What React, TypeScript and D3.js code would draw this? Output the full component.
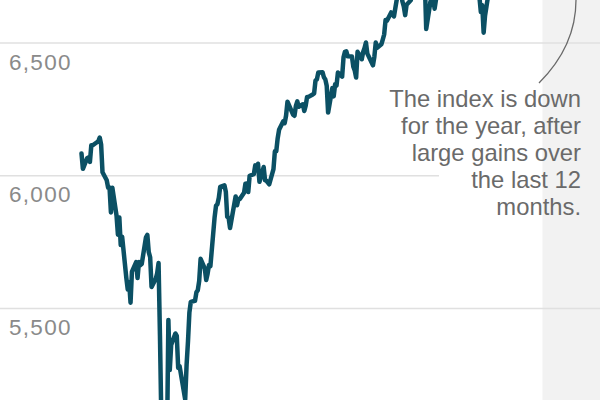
import React from "react";
import * as d3 from "d3";

const dates: string[] = [
  "2025-02-06","2025-02-07","2025-02-10","2025-02-11","2025-02-12","2025-02-13","2025-02-14","2025-02-18","2025-02-19","2025-02-20","2025-02-21","2025-02-24","2025-02-25","2025-02-26","2025-02-27","2025-02-28",
  "2025-03-03","2025-03-04","2025-03-05","2025-03-06","2025-03-07","2025-03-10","2025-03-11","2025-03-12","2025-03-13","2025-03-14","2025-03-17","2025-03-18","2025-03-19","2025-03-20","2025-03-21","2025-03-24","2025-03-25","2025-03-26","2025-03-27","2025-03-28","2025-03-31",
  "2025-04-01","2025-04-02","2025-04-03","2025-04-04","2025-04-07","2025-04-08","2025-04-09","2025-04-10","2025-04-11","2025-04-14","2025-04-15","2025-04-16","2025-04-17","2025-04-21","2025-04-22","2025-04-23","2025-04-24","2025-04-25","2025-04-28","2025-04-29","2025-04-30",
  "2025-05-01","2025-05-02","2025-05-05","2025-05-06","2025-05-07","2025-05-08","2025-05-09","2025-05-12","2025-05-13","2025-05-14","2025-05-15","2025-05-16","2025-05-19","2025-05-20","2025-05-21","2025-05-22","2025-05-23","2025-05-27","2025-05-28","2025-05-29","2025-05-30",
  "2025-06-02","2025-06-03","2025-06-04","2025-06-05","2025-06-06","2025-06-09","2025-06-10","2025-06-11","2025-06-12","2025-06-13","2025-06-16","2025-06-17","2025-06-18","2025-06-20","2025-06-23","2025-06-24","2025-06-25","2025-06-26","2025-06-27","2025-06-30",
  "2025-07-01","2025-07-02","2025-07-03","2025-07-07","2025-07-08","2025-07-09","2025-07-10","2025-07-11","2025-07-14","2025-07-15","2025-07-16","2025-07-17","2025-07-18","2025-07-21","2025-07-22","2025-07-23","2025-07-24","2025-07-25","2025-07-28","2025-07-29","2025-07-30","2025-07-31",
  "2025-08-01","2025-08-04","2025-08-05","2025-08-06","2025-08-07","2025-08-08","2025-08-11","2025-08-12","2025-08-13","2025-08-14","2025-08-15","2025-08-18","2025-08-19","2025-08-20","2025-08-21","2025-08-22","2025-08-25","2025-08-26","2025-08-27","2025-08-28","2025-08-29",
  "2025-09-02","2025-09-03","2025-09-04","2025-09-05","2025-09-08","2025-09-09","2025-09-10","2025-09-11","2025-09-12","2025-09-15","2025-09-16","2025-09-17","2025-09-18","2025-09-19","2025-09-22","2025-09-23","2025-09-24","2025-09-25","2025-09-26","2025-09-29","2025-09-30",
  "2025-10-01","2025-10-02","2025-10-03","2025-10-06","2025-10-07","2025-10-08","2025-10-09","2025-10-10","2025-10-13","2025-10-14","2025-10-15","2025-10-16","2025-10-17","2025-10-20","2025-10-21","2025-10-22","2025-10-23","2025-10-24","2025-10-27","2025-10-28","2025-10-29","2025-10-30","2025-10-31",
  "2025-11-03","2025-11-04","2025-11-05","2025-11-06","2025-11-07","2025-11-10","2025-11-11","2025-11-12","2025-11-13","2025-11-14","2025-11-17","2025-11-18","2025-11-19","2025-11-20","2025-11-21","2025-11-24","2025-11-25","2025-11-26","2025-11-28",
  "2025-12-01","2025-12-02","2025-12-03","2025-12-04","2025-12-05","2025-12-08","2025-12-09","2025-12-10","2025-12-11","2025-12-12","2025-12-15","2025-12-16","2025-12-17","2025-12-18","2025-12-19","2025-12-22","2025-12-23","2025-12-24","2025-12-26","2025-12-29","2025-12-30","2025-12-31"
];

const closes: number[] = [
  6084,6026,6066,6069,6052,6115,6115,6130,6144,6118,6013,5983,5955,5956,5862,5955,
  5850,5778,5843,5739,5770,5615,5572,5599,5522,5639,5675,5615,5675,5663,5668,5768,5777,5712,5693,5581,5612,
  5633,5671,5397,5074,5062,4983,5457,5268,5363,5406,5397,5276,5283,5158,5288,5376,5485,5525,5529,5561,5569,
  5604,5687,5650,5607,5631,5664,5660,5844,5887,5893,5917,5958,5964,5940,5845,5842,5803,5922,5889,5912,5912,
  5936,5970,5971,5939,6000,6006,6039,6022,6045,5977,6033,5983,5981,5968,6025,6092,6092,6141,6173,6205,
  6198,6227,6279,6230,6226,6263,6280,6260,6269,6244,6264,6297,6297,6306,6310,6359,6363,6389,6390,6371,6363,6339,
  6238,6330,6299,6345,6340,6389,6373,6446,6467,6469,6450,6449,6411,6396,6370,6467,6439,6466,6481,6502,6460,
  6416,6448,6502,6482,6495,6513,6532,6587,6584,6615,6607,6600,6632,6664,6694,6657,6638,6605,6644,6661,6688,
  6711,6715,6716,6740,6715,6754,6735,6553,6655,6644,6671,6629,6664,6735,6735,6699,6738,6792,6875,6891,6891,6822,6840,
  6852,6772,6796,6720,6729,6832,6847,6851,6737,6734,6672,6617,6642,6539,6603,6705,6766,6813,6849,
  6813,6829,6850,6857,6870,6847,6841,6887,6901,6827,6817,6800,6721,6775,6835,6878,6910,6932,6930,6906,6896,6846
];

const yTicks: number[] = [5500, 6000, 6500];
const xDomain: string[] = ["2025-02-06", "2026-01-01"];
const shadeStart = "2026-01-01";
const annotationLines: string[] = [
  "The index is down",
  "for the year, after",
  "large gains over",
  "the last 12",
  "months.",
];

const W = 600;
const H = 400;
const parse = d3.utcParse("%Y-%m-%d");

export default function App() {
  const x = d3
    .scaleUtc()
    .domain(xDomain.map((d) => parse(d) as Date))
    .range([81.5, 542.5]);
  const y = d3.scaleLinear().domain([5500, 6500]).range([308.5, 43]);

  const pts = dates.map((d, i) => ({ date: parse(d) as Date, v: closes[i] }));
  const line = d3
    .line<{ date: Date; v: number }>()
    .x((d) => x(d.date))
    .y((d) => y(d.v));

  const shadeX = x(parse(shadeStart) as Date);
  const font = "'Liberation Sans', Arial, Helvetica, sans-serif";

  return (
    <svg
      width={W}
      height={H}
      style={{ position: "absolute", left: 0, top: 0, display: "block" }}
    >
      <rect x={0} y={0} width={W} height={H} fill="#ffffff" />
      <rect x={shadeX} y={0} width={W - shadeX} height={H} fill="#f2f2f2" />
      {yTicks.map((t) => (
        <g key={t}>
          <line
            x1={0}
            x2={t === 6000 ? 439 : W}
            y1={y(t)}
            y2={y(t)}
            stroke="#e0e0e0"
            strokeWidth={1.6}
          />
          <text
            x={9}
            y={y(t) + 26.5}
            fontFamily={font}
            fontSize={22.5}
            letterSpacing={1.3}
            fill="#8a8a8a"
          >
            {d3.format(",")(t)}
          </text>
        </g>
      ))}
      <path
        d={line(pts) || ""}
        fill="none"
        stroke="#0b5064"
        strokeWidth={4.5}
        strokeLinejoin="round"
        strokeLinecap="round"
      />
      <path
        d="M539,83 C556,66 576,40 576,0 L576,-20"
        fill="none"
        stroke="#6a6a6a"
        strokeWidth={1.3}
      />
      <text fontFamily={font} fontSize={23.8} fill="#6a6a6a" textAnchor="end">
        {annotationLines.map((l, i) => (
          <tspan key={i} x={581} y={107 + i * 26.9}>
            {l}
          </tspan>
        ))}
      </text>
    </svg>
  );
}
